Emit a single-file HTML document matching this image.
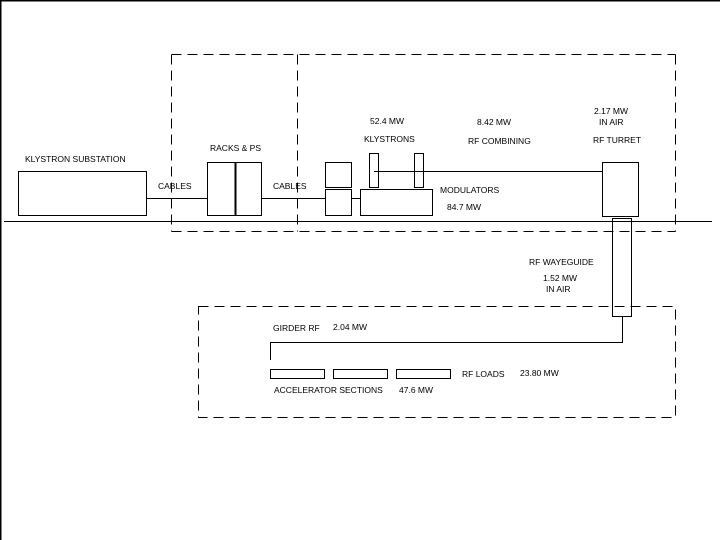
<!DOCTYPE html>
<html><head><style>html,body{margin:0;padding:0;background:#fff}svg{display:block}
text{font-family:"Liberation Sans",sans-serif;font-size:8.5px;fill:#000}</style></head>
<body>
<svg width="720" height="540" viewBox="0 0 720 540" xmlns="http://www.w3.org/2000/svg">
<rect width="720" height="540" fill="#fff"/>
<line x1="0.5" y1="0" x2="0.5" y2="540" stroke="#000" stroke-width="2"/>
<line x1="0" y1="0.5" x2="720" y2="0.5" stroke="#000" stroke-width="2"/>
<g fill="none" stroke="#000" stroke-width="1" stroke-dasharray="10,6">
<line x1="171.5" y1="54.5" x2="675.5" y2="54.5"/>
<line x1="171.5" y1="231.5" x2="675.5" y2="231.5"/>
<line x1="171.5" y1="54.5" x2="171.5" y2="231.5"/>
<line x1="297.5" y1="54.5" x2="297.5" y2="231.5"/>
<line x1="675.5" y1="54.5" x2="675.5" y2="231.5"/>
<rect x="198.5" y="306.5" width="477" height="111"/>
</g>
<g fill="#fff" stroke="#000" stroke-width="1">
<line x1="4" y1="221.5" x2="712" y2="221.5"/>
<rect x="18.5" y="171.5" width="128" height="44"/>
<line x1="146" y1="198.5" x2="207" y2="198.5"/>
<rect x="207.5" y="162.5" width="54" height="53"/>
<line x1="235.5" y1="162" x2="235.5" y2="216" stroke-width="2"/>
<line x1="261" y1="198.5" x2="325" y2="198.5"/>
<rect x="325.5" y="162.5" width="26" height="25"/>
<rect x="325.5" y="189.5" width="26" height="26"/>
<line x1="351" y1="198.5" x2="360" y2="198.5"/>
<rect x="360.5" y="189.5" width="72" height="26"/>
<rect x="369.5" y="153.5" width="9" height="34"/>
<rect x="414.5" y="153.5" width="9" height="34"/>
<line x1="374" y1="171.5" x2="602" y2="171.5"/>
<rect x="602.5" y="162.5" width="36" height="54"/>
<rect x="612.5" y="218.5" width="19" height="98" fill="none"/>
<polyline fill="none" points="622.5,316 622.5,342.5 270.5,342.5 270.5,360"/>
<rect x="270.5" y="369.5" width="54" height="9"/>
<rect x="333.5" y="369.5" width="54" height="9"/>
<rect x="396.5" y="369.5" width="54" height="9"/>
</g>
<text x="25" y="162">KLYSTRON SUBSTATION</text>
<text x="210" y="151">RACKS &amp; PS</text>
<text x="158" y="189">CABLES</text>
<text x="273" y="189">CABLES</text>
<text x="370" y="124">52.4 MW</text>
<text x="364" y="142">KLYSTRONS</text>
<text x="477" y="125">8.42 MW</text>
<text x="468" y="144">RF COMBINING</text>
<text x="594" y="114">2.17 MW</text>
<text x="599" y="125">IN  AIR</text>
<text x="593" y="143">RF TURRET</text>
<text x="440" y="193">MODULATORS</text>
<text x="447" y="210">84.7 MW</text>
<text x="529" y="265">RF WAYEGUIDE</text>
<text x="543" y="281">1.52 MW</text>
<text x="546" y="292">IN  AIR</text>
<text x="273" y="331">GIRDER RF</text>
<text x="333" y="330">2.04 MW</text>
<text x="462" y="377">RF LOADS</text>
<text x="520" y="376">23.80 MW</text>
<text x="274" y="393">ACCELERATOR SECTIONS</text>
<text x="399" y="393">47.6 MW</text>
</svg>
</body></html>
